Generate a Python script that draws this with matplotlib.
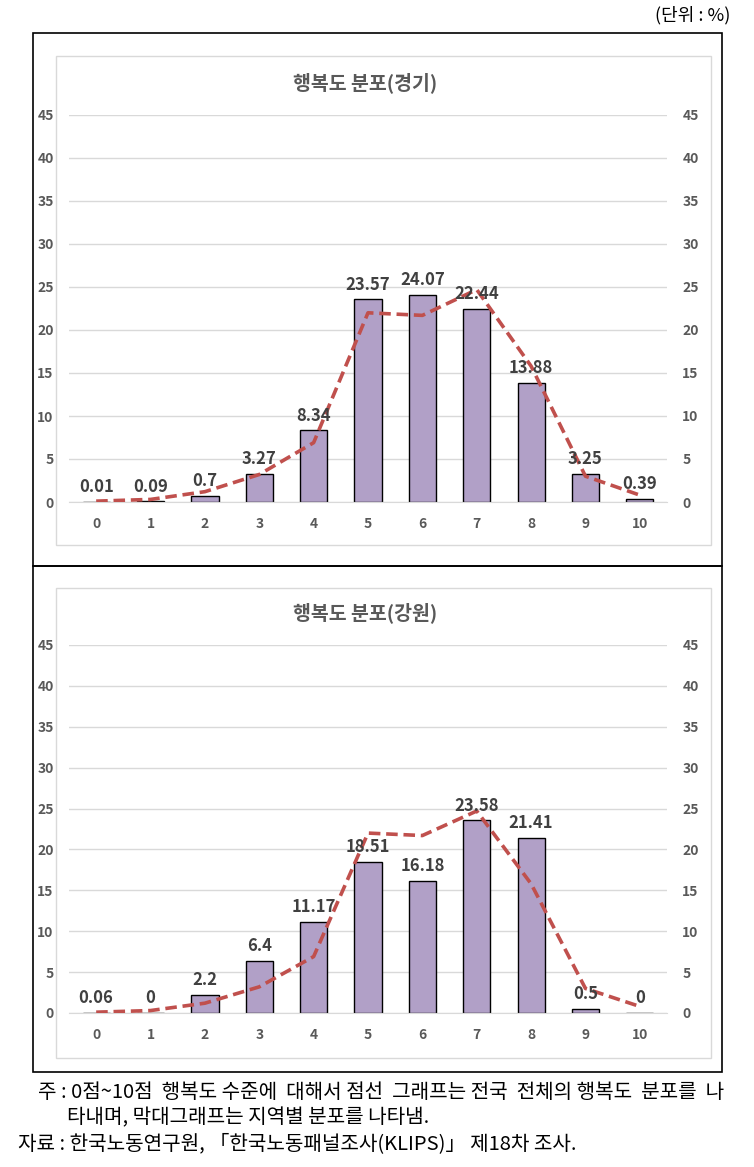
import matplotlib
matplotlib.use("Agg")
import matplotlib.pyplot as plt
from matplotlib.patches import Rectangle

plt.rcParams['font.family'] = ['Noto Sans CJK KR', 'DejaVu Sans']

categories = ['0', '1', '2', '3', '4', '5', '6', '7', '8', '9', '10']
gyeonggi = [0.01, 0.09, 0.7, 3.27, 8.34, 23.57, 24.07, 22.44, 13.88, 3.25, 0.39]
gangwon = [0.06, 0, 2.2, 6.4, 11.17, 18.51, 16.18, 23.58, 21.41, 0.5, 0]
national = [0.1, 0.3, 1.2, 3.2, 6.9, 22.0, 21.7, 24.7, 15.8, 3.0, 0.8]
yticks = [0, 5, 10, 15, 20, 25, 30, 35, 40, 45]
titles = ['행복도 분포(경기)', '행복도 분포(강원)']

W, H = 754, 1167
fig = plt.figure(figsize=(W / 100, H / 100), dpi=100)

def px_rect(x0, y0, x1, y1, **kw):
    r = Rectangle((x0 / W, 1 - y1 / H), (x1 - x0) / W, (y1 - y0) / H,
                  transform=fig.transFigure, fill=False, **kw)
    fig.patches.append(r)

# outer frames
px_rect(33, 33, 722, 566, edgecolor='black', linewidth=1.2)
px_rect(33, 566, 722, 1072, edgecolor='black', linewidth=1.2)
# inner chart borders
px_rect(56, 56, 711, 545, edgecolor='#d9d9d9', linewidth=1.0)
px_rect(56, 588, 711, 1058, edgecolor='#d9d9d9', linewidth=1.0)

bar_color = '#B1A0C7'
line_color = '#C0504D'
tick_color = '#595959'

panels = [
    (gyeonggi, titles[0], 115, 502, 83, [str(v) for v in gyeonggi]),
    (gangwon, titles[1], 645, 1013, 613, [str(v) for v in gangwon]),
]

for vals, title, ytop, ybot, ytitle, labels in panels:
    left, right = 69, 667
    ax = fig.add_axes([left / W, 1 - ybot / H, (right - left) / W, (ybot - ytop) / H])
    x = list(range(len(categories)))
    ax.bar(x, vals, width=0.5, color=bar_color, edgecolor='black', linewidth=1.0, zorder=2)
    ax.plot(x, national, color=line_color, linestyle=(0, (3.2, 1.6)), linewidth=2.6, zorder=3)
    for xi, v, lab in zip(x, vals, labels):
        ax.annotate(lab, (xi, v), xytext=(0, 4), textcoords='offset points',
                    ha='center', va='bottom', fontsize=12, fontweight='bold',
                    color='#404040', zorder=4)
    ax.set_xlim(-0.5, len(categories) - 0.5)
    ax.set_ylim(0, 45)
    ax.set_yticks(yticks)
    ax.set_xticks(x)
    ax.set_xticklabels(categories)
    ax.grid(axis='y', color='#d9d9d9', linewidth=1.0, zorder=0)
    ax.set_axisbelow(True)
    for s in ['top', 'right', 'left']:
        ax.spines[s].set_visible(False)
    ax.spines['bottom'].set_color('#d9d9d9')
    ax.tick_params(axis='both', length=0, labelsize=10, labelcolor=tick_color)
    ax.tick_params(axis='y', pad=11)
    ax.tick_params(axis='x', pad=11)
    for t in ax.get_xticklabels() + ax.get_yticklabels():
        t.set_fontweight('bold')
    ax2 = ax.twinx()
    ax2.set_ylim(0, 45)
    ax2.set_yticks(yticks)
    for s in ax2.spines.values():
        s.set_visible(False)
    ax2.tick_params(axis='y', length=0, labelsize=10, labelcolor=tick_color, pad=11)
    for t in ax2.get_yticklabels():
        t.set_fontweight('bold')
    fig.text(365 / W, 1 - ytitle / H, title, ha='center', va='center',
             fontsize=14, fontweight='bold', color=tick_color)

fig.text(730 / W, 1 - 15 / H, '(단위 : %)', ha='right', va='center', fontsize=13, color='black')
fig.text(38 / W, 1 - 1093 / H, '주 : 0점~10점  행복도 수준에  대해서 점선  그래프는 전국  전체의 행복도  분포를  나',
         ha='left', va='center', fontsize=14.5, color='black')
fig.text(67 / W, 1 - 1118 / H, '타내며, 막대그래프는 지역별 분포를 나타냄.',
         ha='left', va='center', fontsize=14.5, color='black')
fig.text(18 / W, 1 - 1144 / H, '자료 : 한국노동연구원, 「한국노동패널조사(KLIPS)」 제18차 조사.',
         ha='left', va='center', fontsize=14.5, color='black')

fig.savefig('out.png', dpi=100)
